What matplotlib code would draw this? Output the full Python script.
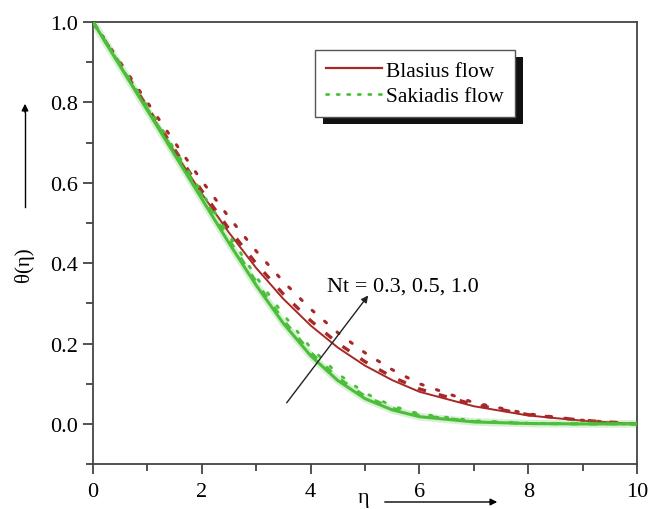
import matplotlib
matplotlib.use("Agg")
import matplotlib.pyplot as plt
from matplotlib.patches import Rectangle
from matplotlib.lines import Line2D
import numpy as np

plt.rcParams['font.family'] = ['Liberation Serif', 'DejaVu Serif']
plt.rcParams['mathtext.fontset'] = 'stix'

eta = [0, 0.5, 1, 1.5, 2, 2.5, 3, 3.5, 4, 4.5, 5, 5.5, 6, 7, 8, 9, 10]

# Blasius flow, Nt = 0.3, 0.5, 1.0
blasius_nt03 = [1.0, 0.892, 0.784, 0.677, 0.573, 0.476, 0.388, 0.311, 0.245, 0.190, 0.145, 0.109, 0.080, 0.044, 0.021, 0.008, 0.0]
blasius_nt05 = [1.0, 0.894, 0.788, 0.683, 0.580, 0.485, 0.399, 0.323, 0.257, 0.201, 0.155, 0.117, 0.087, 0.048, 0.023, 0.009, 0.0]
blasius_nt10 = [1.0, 0.900, 0.800, 0.701, 0.605, 0.514, 0.430, 0.354, 0.286, 0.227, 0.177, 0.135, 0.100, 0.053, 0.025, 0.009, 0.0]

# Sakiadis flow, Nt = 0.3, 0.5, 1.0
sakiadis_nt03 = [1.0, 0.89, 0.78, 0.67, 0.56, 0.45, 0.345, 0.25, 0.17, 0.108, 0.063, 0.035, 0.018, 0.005, 0.001, 0.0, 0.0]
sakiadis_nt05 = [1.0, 0.892, 0.784, 0.675, 0.567, 0.458, 0.353, 0.258, 0.178, 0.115, 0.069, 0.039, 0.021, 0.006, 0.001, 0.0, 0.0]
sakiadis_nt10 = [1.0, 0.895, 0.79, 0.683, 0.576, 0.47, 0.366, 0.272, 0.19, 0.125, 0.077, 0.045, 0.025, 0.008, 0.002, 0.0, 0.0]

xticks = [0, 2, 4, 6, 8, 10]
yticks = [0.0, 0.2, 0.4, 0.6, 0.8, 1.0]

red = '#a82828'
green = '#4cbf3a'

fig = plt.figure(figsize=(6.5, 5.1), dpi=100)
ax = fig.add_axes([0.143, 0.088, 0.837, 0.867])

# Blasius (red)
ax.plot(eta, blasius_nt03, color=red, lw=1.4, ls='-', zorder=3)
ax.plot(eta, blasius_nt05, color=red, lw=2.4, ls=(0, (2.5, 4)), zorder=3)
ax.plot(eta, blasius_nt10, color=red, lw=2.2, ls=(0, (0.8, 4.6)), dash_capstyle='round', zorder=3)

# Sakiadis (green) with soft glow
ax.plot(eta, sakiadis_nt03, color=green, lw=5.5, alpha=0.22, solid_capstyle='round', zorder=4)
ax.plot(eta, sakiadis_nt03, color=green, lw=2.2, ls='-', zorder=4)
ax.plot(eta, sakiadis_nt05, color=green, lw=2.2, ls=(0, (2.5, 4)), zorder=4)
ax.plot(eta, sakiadis_nt10, color=green, lw=2.0, ls=(0, (0.8, 5.0)), dash_capstyle='round', zorder=4)

ax.set_xlim(0, 10)
ax.set_ylim(-0.1, 1.0)
ax.set_xticks(xticks)
ax.set_xticklabels([str(t) for t in xticks])
ax.set_yticks(yticks)
ax.set_yticklabels([f"{t:.1f}" for t in yticks])
ax.set_xticks([1, 3, 5, 7, 9], minor=True)
ax.set_yticks([-0.1, 0.1, 0.3, 0.5, 0.7, 0.9], minor=True)
ax.tick_params(which='major', direction='out', length=7, width=1.2, color='#333333', labelsize=16, pad=4)
ax.tick_params(which='minor', direction='out', length=5, width=1.2, color='#333333')
ax.tick_params(axis='x', which='major', pad=6)
ax.tick_params(top=False, right=False)
for s in ax.spines.values():
    s.set_color('#444444')
    s.set_linewidth(1.3)

# Axis labels with arrows
fig.text(24 / 650, 1 - 265 / 510, 'θ(η)', rotation=90, ha='center', va='center', fontsize=15)
fig.add_artist(Line2D([25 / 650, 25 / 650], [1 - 208 / 510, 1 - 110 / 510], color='black', lw=1))
ax.annotate('', xy=(25 / 650, 1 - 102 / 510), xytext=(25 / 650, 1 - 116 / 510), xycoords='figure fraction',
            arrowprops=dict(arrowstyle='-|>', color='black', lw=1, mutation_scale=10))
fig.text(363 / 650, 1 - 499 / 510, 'η', ha='center', va='center', fontsize=16)
ax.annotate('', xy=(500 / 650, 1 - 503 / 510), xytext=(382 / 650, 1 - 503 / 510), xycoords='figure fraction',
            arrowprops=dict(arrowstyle='-|>', color='black', lw=1, mutation_scale=10))

# Nt annotation
ax.annotate('', xy=(5.09, 0.325), xytext=(3.53, 0.047),
            arrowprops=dict(arrowstyle='-|>', color='#222222', lw=1, mutation_scale=10), zorder=6)
ax.text(4.30, 0.342, 'Nt = 0.3, 0.5, 1.0', fontsize=16, ha='left', va='center', zorder=7)

# Legend
handles = [Line2D([], [], color=red, lw=1.6, ls='-'),
           Line2D([], [], color=green, lw=2.0, ls=(0, (0.8, 3)), dash_capstyle='round')]
leg = ax.legend(handles, ['Blasius flow', 'Sakiadis flow'], loc='upper left',
                bbox_to_anchor=(315 / 650, 1 - 51 / 510), bbox_transform=fig.transFigure,
                frameon=True, fancybox=False, framealpha=1, fontsize=15.5, handlelength=2.6,
                handletextpad=0.2, borderpad=0.5, labelspacing=0.25, borderaxespad=0)
leg.get_frame().set_edgecolor('#555555')
leg.get_frame().set_linewidth(1.0)
leg.set_zorder(10)

fig.canvas.draw()
bb = leg.get_window_extent()
shadow = Rectangle((bb.x0 + 8, bb.y0 - 7), bb.width, bb.height, transform=None,
                   facecolor='#111111', edgecolor='none', zorder=9)
ax.add_artist(shadow)

fig.savefig('out.png', dpi=100)
